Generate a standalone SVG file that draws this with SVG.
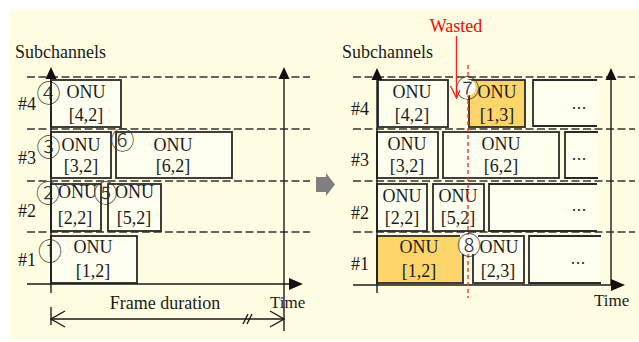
<svg xmlns="http://www.w3.org/2000/svg" width="639" height="342" viewBox="0 0 639 342">
  <style>
    .txt { font-family: "Liberation Serif", "Times New Roman", serif; font-size: 18px; fill: #1a1a1a; }
    .mid { text-anchor: middle; }
    .num { font-family: "Noto Sans CJK JP", "DejaVu Sans", sans-serif; font-size: 24px; font-weight: 300; fill: #333; text-anchor: middle; }
    .dots { font-family: "Noto Sans CJK JP", "DejaVu Sans", sans-serif; font-size: 15px; fill: #222; text-anchor: middle; }
    .red { fill: #ff0000; }
    .box { fill: #fffff0; stroke: #2a2a2a; stroke-width: 1.8; }
    .hot { fill: #fdd66b; stroke: #2a2a2a; stroke-width: 1.8; }
    .open { fill: #fffff0; stroke: #2a2a2a; stroke-width: 1.8; }
    .grid { stroke: #333; stroke-width: 1.3; stroke-dasharray: 8 3.5; fill: none; }
    .axis { stroke: #1a1a1a; stroke-width: 1.4; fill: none; }
    .head { fill: #111; }
    .waste { stroke: #ff2020; stroke-width: 1.4; fill: none; }
    .cut { stroke: #ff3030; stroke-width: 1.4; stroke-dasharray: 4 3; fill: none; }
  </style>

  <!-- page background -->
  <rect x="9" y="9" width="630" height="331" fill="#fffee2"/>

  <!-- grid lines for the subchannel rows -->
  <g id="grid">
    <line class="grid" x1="27" y1="77" x2="310" y2="77"/>
    <line class="grid" x1="27" y1="129" x2="310" y2="129"/>
    <line class="grid" x1="27" y1="181" x2="310" y2="181"/>
    <line class="grid" x1="27" y1="232" x2="310" y2="232"/>
    <line class="grid" x1="353" y1="77" x2="635" y2="77"/>
    <line class="grid" x1="353" y1="129" x2="635" y2="129"/>
    <line class="grid" x1="353" y1="181" x2="635" y2="181"/>
    <line class="grid" x1="353" y1="232" x2="635" y2="232"/>
  </g>

  <!-- left schedule: one frame -->
  <g id="left-labels">
    <text class="txt" x="15" y="58">Subchannels</text>
    <text class="txt" x="18" y="110">#4</text>
    <text class="txt" x="18" y="164">#3</text>
    <text class="txt" x="18" y="217">#2</text>
    <text class="txt" x="18" y="266">#1</text>
  </g>

  <g id="l-onu-4-2">
    <rect class="box" x="51" y="80" width="70" height="47"/>
    <text class="txt mid" x="86" y="98">ONU</text>
    <text class="txt mid" x="86" y="121">[4,2]</text>
  </g>
  <g id="l-onu-3-2">
    <rect class="box" x="51" y="132" width="60" height="46"/>
    <text class="txt mid" x="81" y="151">ONU</text>
    <text class="txt mid" x="81" y="172">[3,2]</text>
  </g>
  <g id="l-onu-6-2">
    <rect class="box" x="116" y="132" width="116" height="46"/>
    <text class="txt mid" x="173" y="151">ONU</text>
    <text class="txt mid" x="173" y="172">[6,2]</text>
  </g>
  <g id="l-onu-2-2">
    <rect class="box" x="51" y="184" width="50" height="47"/>
    <text class="txt mid" x="77.5" y="198">ONU</text>
    <text class="txt mid" x="75" y="224">[2,2]</text>
  </g>
  <g id="l-onu-5-2">
    <rect class="box" x="108" y="184" width="53" height="47"/>
    <text class="txt mid" x="134.5" y="198">ONU</text>
    <text class="txt mid" x="134" y="224">[5,2]</text>
  </g>
  <g id="l-onu-1-2">
    <rect class="box" x="51" y="236" width="86" height="47"/>
    <text class="txt mid" x="93" y="253">ONU</text>
    <text class="txt mid" x="93" y="277">[1,2]</text>
  </g>

  <!-- grant order marks -->
  <g id="left-order">
    <text class="num" x="48.5" y="101.5">④</text>
    <text class="num" x="48.5" y="155.8">③</text>
    <text class="num" x="48" y="201.8">②</text>
    <text class="num" x="50" y="259.8">①</text>
    <text class="num" x="122.5" y="148.8">⑥</text>
    <text class="num" x="105.5" y="201.8">⑤</text>
  </g>

  <!-- left axes and frame span -->
  <g id="left-axes">
    <line class="axis" x1="51" y1="76" x2="51" y2="293"/>
    <polygon class="head" points="51,67 45.5,79 56.5,79"/>
    <line class="axis" x1="284" y1="76" x2="284" y2="331"/>
    <polygon class="head" points="284,67 278.5,79 289.5,79"/>
    <line class="axis" x1="27" y1="284" x2="290" y2="284"/>
    <polygon class="head" points="303,284 289,278 289,290"/>
    <text class="txt" x="270" y="308" style="font-size:17px">Time</text>
    <text class="txt mid" x="165" y="309">Frame duration</text>
    <line class="axis" x1="51" y1="307" x2="51" y2="325"/>
    <line class="axis" x1="51" y1="319" x2="284" y2="319"/>
    <polyline class="axis" points="65,311 51,319 65,327"/>
    <polyline class="axis" points="270,311 284,319 270,327"/>
    <line class="axis" x1="243" y1="324" x2="248" y2="314"/>
    <line class="axis" x1="247" y1="324" x2="252" y2="314"/>
  </g>

  <!-- transition arrow between the two schedules -->
  <g id="step-arrow">
    <polygon points="316,177 326,177 326,173 335,184.5 326,196 326,192 316,192" fill="#7f7f7f"/>
  </g>

  <!-- right schedule: following frames -->
  <g id="right-labels">
    <text class="txt" x="342" y="58">Subchannels</text>
    <text class="txt" x="351" y="115">#4</text>
    <text class="txt" x="351" y="166">#3</text>
    <text class="txt" x="351" y="219">#2</text>
    <text class="txt" x="351" y="270">#1</text>
  </g>

  <g id="r-onu-4-2">
    <rect class="box" x="378" y="80" width="70" height="47"/>
    <text class="txt mid" x="412" y="98">ONU</text>
    <text class="txt mid" x="412" y="121">[4,2]</text>
  </g>
  <g id="r-onu-1-3">
    <rect class="hot" x="469" y="80" width="56" height="47"/>
    <text class="txt mid" x="497" y="98">ONU</text>
    <text class="txt mid" x="497" y="121">[1,3]</text>
  </g>
  <g id="r-next-4">
    <path class="open" d="M597,80 H533 V126 H597"/>
    <text class="dots" x="579" y="114">…</text>
  </g>
  <g id="r-onu-3-2">
    <rect class="box" x="377" y="132" width="61" height="46"/>
    <text class="txt mid" x="407" y="150">ONU</text>
    <text class="txt mid" x="407" y="172">[3,2]</text>
  </g>
  <g id="r-onu-6-2">
    <rect class="box" x="443" y="132" width="116" height="46"/>
    <text class="txt mid" x="501" y="150">ONU</text>
    <text class="txt mid" x="501" y="172">[6,2]</text>
  </g>
  <g id="r-next-3">
    <path class="open" d="M598,132 H565 V178 H598"/>
    <text class="dots" x="579" y="165">…</text>
  </g>
  <g id="r-onu-2-2">
    <rect class="box" x="377" y="184" width="50" height="47"/>
    <text class="txt mid" x="402" y="202">ONU</text>
    <text class="txt mid" x="402" y="224">[2,2]</text>
  </g>
  <g id="r-onu-5-2">
    <rect class="box" x="433" y="184" width="51" height="47"/>
    <text class="txt mid" x="458" y="202">ONU</text>
    <text class="txt mid" x="458" y="224">[5,2]</text>
  </g>
  <g id="r-next-2">
    <path class="open" d="M597,184 H489 V231 H597"/>
    <text class="dots" x="579" y="216">…</text>
  </g>
  <g id="r-onu-1-2">
    <rect class="hot" x="377" y="236" width="86" height="47"/>
    <text class="txt mid" x="419" y="253">ONU</text>
    <text class="txt mid" x="419" y="277">[1,2]</text>
  </g>
  <g id="r-onu-2-3">
    <rect class="box" x="473" y="236" width="51" height="47"/>
    <text class="txt mid" x="499" y="253">ONU</text>
    <text class="txt mid" x="498" y="277">[2,3]</text>
  </g>
  <g id="r-next-1">
    <path class="open" d="M601,236 H529 V283 H601"/>
    <text class="dots" x="578" y="269">…</text>
  </g>

  <!-- right axes -->
  <g id="right-axes">
    <line class="axis" x1="377" y1="77" x2="377" y2="293"/>
    <polygon class="head" points="377,68 371.5,80 382.5,80"/>
    <line class="axis" x1="611" y1="77" x2="611" y2="285"/>
    <polygon class="head" points="611,68 605.5,80 616.5,80"/>
    <line class="axis" x1="353" y1="285" x2="612" y2="285"/>
    <polygon class="head" points="625,285 611,279 611,291"/>
    <text class="txt" x="594" y="306" style="font-size:17px">Time</text>
  </g>

  <!-- wasted gap marker -->
  <g id="wasted">
    <line class="cut" x1="468" y1="65" x2="468" y2="298"/>
    <text class="txt mid red" x="456" y="32">Wasted</text>
    <line class="waste" x1="456.5" y1="36" x2="456.5" y2="98"/>
    <polyline class="waste" points="450.5,86 456.5,98 462,86"/>
  </g>

  <g id="right-order">
    <circle cx="467.5" cy="87.5" r="8" fill="#ffffff"/>
    <text class="num" x="467.5" y="97.3">⑦</text>
    <rect x="460" y="235" width="18" height="19" fill="#ffffff"/>
    <text class="num" x="469" y="254.3">⑧</text>
  </g>
</svg>
